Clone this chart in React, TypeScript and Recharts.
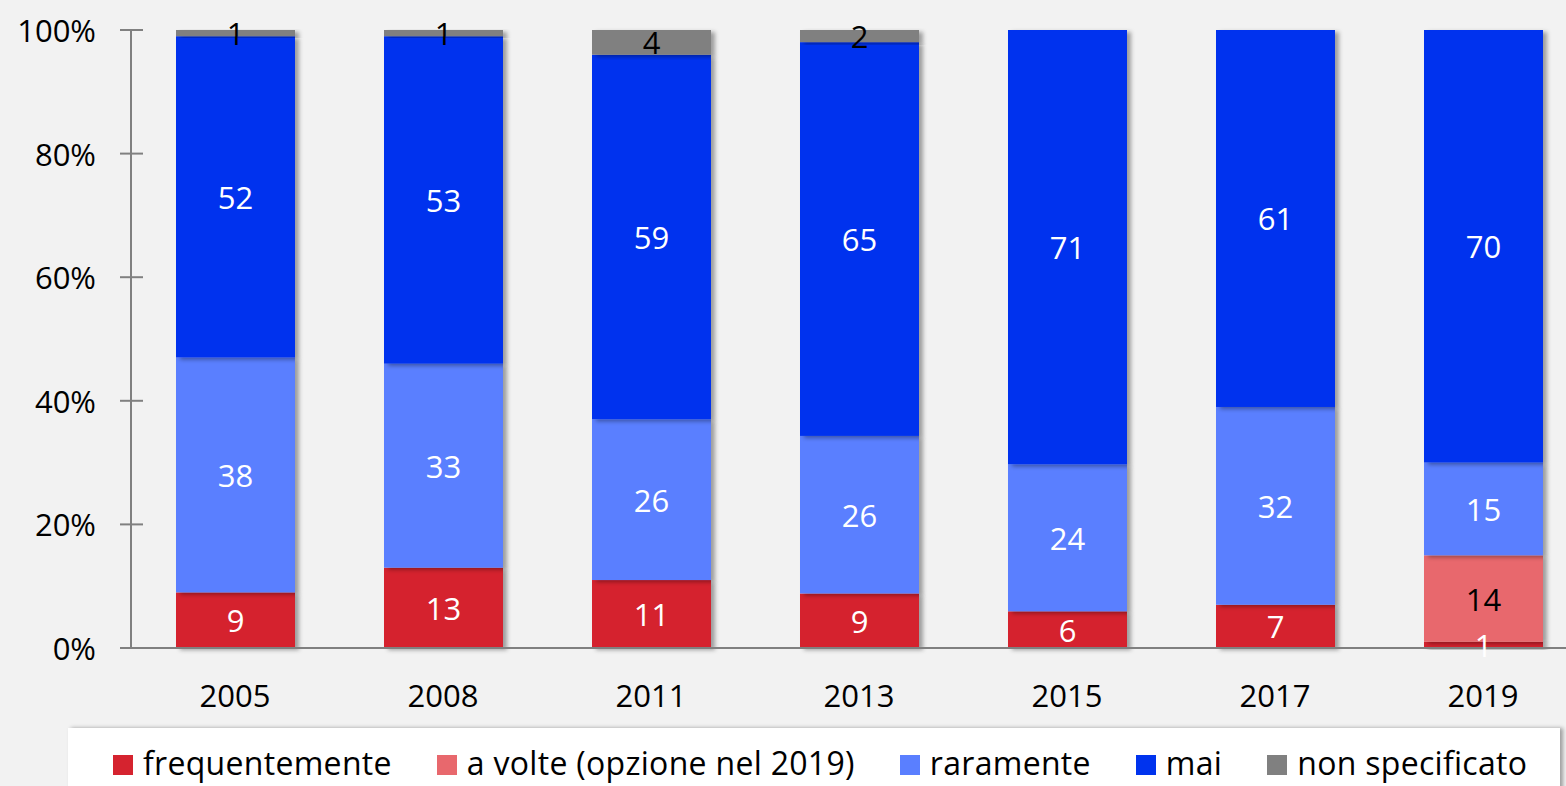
import React from "react";
import { BarChart, Bar, XAxis, YAxis, LabelList } from "recharts";

const years = ["2005", "2008", "2011", "2013", "2015", "2017", "2019"];
const frequentemente = [9, 13, 11, 9, 6, 7, 1];
const aVolte = [null, null, null, null, null, null, 14];
const raramente = [38, 33, 26, 26, 24, 32, 15];
const mai = [52, 53, 59, 65, 71, 61, 70];
const nonSpecificato = [1, 1, 4, 2, null, null, null];
const yTicks = [0, 0.2, 0.4, 0.6, 0.8, 1];

const series = [
  { key: "frequentemente", name: "frequentemente", color: "#d5232f", text: "#ffffff" },
  { key: "aVolte", name: "a volte (opzione nel 2019)", color: "#e8686d", text: "#000000" },
  { key: "raramente", name: "raramente", color: "#5a7fff", text: "#ffffff" },
  { key: "mai", name: "mai", color: "#0033ee", text: "#ffffff" },
  { key: "nonSpecificato", name: "non specificato", color: "#808080", text: "#000000" },
];

const data = years.map((y, i) => ({
  year: y,
  frequentemente: frequentemente[i],
  aVolte: aVolte[i],
  raramente: raramente[i],
  mai: mai[i],
  nonSpecificato: nonSpecificato[i],
}));

const FONT = "'Open Sans', sans-serif";
const FS = 31;

// y ticks cross the axis line (Excel style)
const YTick = (props: any) => {
  const { y, payload } = props;
  return (
    <g>
      <line x1={120} x2={143} y1={y} y2={y} stroke="#808080" strokeWidth={2} />
      <text x={96} y={y} textAnchor="end" dominantBaseline="central" fontFamily={FONT} fontSize={FS} fill="#000">
        {Math.round(payload.value * 100) + "%"}
      </text>
    </g>
  );
};

const XTick = (props: any) => {
  const { x, payload } = props;
  return (
    <text x={x} y={648 + 47} textAnchor="middle" dominantBaseline="central" fontFamily={FONT} fontSize={FS} fill="#000">
      {payload.value}
    </text>
  );
};

const makeLabel = (fill: string) => (props: any) => {
  const { x, y, width, height, value } = props;
  if (value === null || value === undefined) return null;
  return (
    <text
      x={x + width / 2}
      y={y + height / 2}
      textAnchor="middle"
      dominantBaseline="central"
      fontFamily={FONT}
      fontSize={FS}
      fill={fill}
    >
      {value}
    </text>
  );
};

const ShadowBar = (props: any) => {
  const { x, y, width, height, fill } = props;
  if (!height || height <= 0) return null;
  return <rect x={x} y={y} width={width} height={height} fill={fill} filter="url(#barShadow)" />;
};

export default function App() {
  return (
    <div
      style={{
        position: "absolute",
        left: 0,
        top: 0,
        width: 1566,
        height: 786,
        overflow: "hidden",
        background: "#f2f2f2",
      }}
    >
      <BarChart
        width={1587}
        height={786}
        data={data}
        stackOffset="expand"
        barSize={119}
        margin={{ top: 30, right: 0, left: 0, bottom: 78 }}
      >
        <defs>
          <filter id="barShadow" x="-10%" y="-10%" width="130%" height="130%">
            <feDropShadow dx={4} dy={2} stdDeviation={2} floodColor="#000" floodOpacity={0.35} />
          </filter>
        </defs>
        <XAxis
          dataKey="year"
          height={60}
          tickLine={false}
          axisLine={{ stroke: "#808080", strokeWidth: 2 }}
          tick={<XTick />}
          interval={0}
        />
        <YAxis
          width={131}
          domain={[0, 1]}
          ticks={yTicks}
          tickLine={false}
          axisLine={{ stroke: "#808080", strokeWidth: 2 }}
          tick={<YTick />}
        />
        {series.map((s) => (
          <Bar
            key={s.key}
            dataKey={s.key}
            name={s.name}
            stackId="a"
            fill={s.color}
            shape={<ShadowBar />}
            isAnimationActive={false}
          >
            <LabelList dataKey={s.key} content={makeLabel(s.text)} />
          </Bar>
        ))}
      </BarChart>
      <div
        style={{
          position: "absolute",
          left: 68,
          top: 728,
          width: 1492,
          height: 80,
          background: "#ffffff",
          boxShadow: "3px 0px 4px rgba(0,0,0,0.35)",
          display: "flex",
          alignItems: "flex-start",
          paddingLeft: 45,
          boxSizing: "border-box",
          fontFamily: FONT,
          fontSize: 32,
          letterSpacing: 0.3,
          gap: 45,
        }}
      >
        {series.map((s) => (
          <div key={s.key} style={{ display: "flex", alignItems: "center", marginTop: 15, lineHeight: "40px" }}>
            <span style={{ width: 20, height: 20, background: s.color, display: "inline-block", marginRight: 10, marginTop: 4 }} />
            <span style={{ color: "#000", whiteSpace: "nowrap" }}>{s.name}</span>
          </div>
        ))}
      </div>
    </div>
  );
}
